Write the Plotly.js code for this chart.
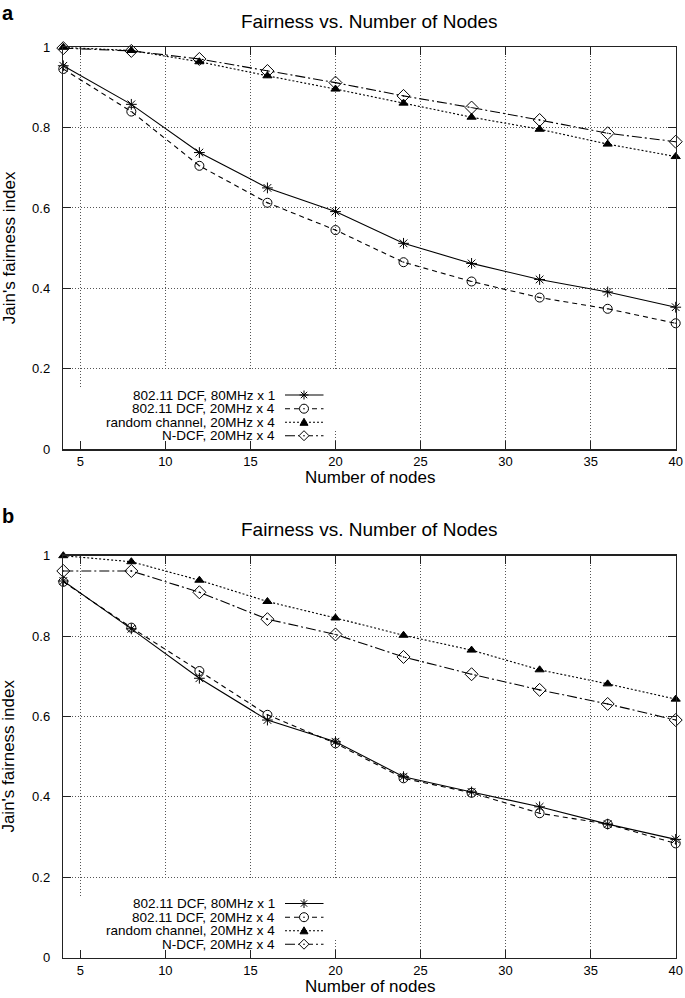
<!DOCTYPE html>
<html>
<head>
<meta charset="utf-8">
<script src="https://cdn.plot.ly/plotly-3.0.1.min.js"></script>
<style>html,body{margin:0;padding:0;background:#fff;}#chart{width:685px;height:998px;}</style>
</head>
<body>
<div id="chart"></div>
<script>
// ---------- data ----------
const nodes = [4, 8, 12, 16, 20, 24, 28, 32, 36, 40];

const seriesNames = [
  "802.11 DCF, 80MHz x 1",
  "802.11 DCF, 20MHz x 4",
  "random channel, 20MHz x 4",
  "N-DCF, 20MHz x 4"
];

// panel a
const aDcf80  = [0.954, 0.858, 0.738, 0.650, 0.591, 0.512, 0.462, 0.422, 0.391, 0.353];
const aDcf20  = [0.946, 0.840, 0.705, 0.613, 0.545, 0.465, 0.417, 0.377, 0.349, 0.313];
const aRandom = [1.000, 0.992, 0.964, 0.929, 0.896, 0.861, 0.826, 0.796, 0.759, 0.728];
const aNdcf   = [0.998, 0.991, 0.971, 0.941, 0.912, 0.879, 0.850, 0.819, 0.786, 0.765];

// panel b
const bDcf80  = [0.937, 0.818, 0.695, 0.591, 0.537, 0.450, 0.412, 0.375, 0.332, 0.294];
const bDcf20  = [0.935, 0.821, 0.713, 0.604, 0.533, 0.446, 0.410, 0.359, 0.332, 0.284];
const bRandom = [1.000, 0.985, 0.939, 0.886, 0.845, 0.802, 0.765, 0.716, 0.681, 0.643];
const bNdcf   = [0.962, 0.962, 0.909, 0.842, 0.804, 0.748, 0.705, 0.666, 0.631, 0.591];

const xTickVals = [5, 10, 15, 20, 25, 30, 35, 40];
const xTickText = ["5", "10", "15", "20", "25", "30", "35", "40"];
const yTickVals = [0, 0.2, 0.4, 0.6, 0.8, 1];
const yTickText = ["0", "0.2", "0.4", "0.6", "0.8", "1"];

const chartTitle = "Fairness vs. Number of Nodes";
const xTitle = "Number of nodes";
const yTitle = "Jain's fairness index";
const panelLabels = ["a", "b"];

// ---------- layout helpers ----------
const W = 685, H = 998;
const px = p => p / W;
const py = p => 1 - p / H;
const FONT = "Liberation Sans, Arial, Helvetica, sans-serif";

const X_MIN = 4, X_MAX = 40;
const plotLeft = 63.3, plotRight = 675.7;
const plotW = plotRight - plotLeft;
const panels = [
  {top: 47.3, bottom: 449.0, xa: "x", ya: "y", labelTop: 0},
  {top: 555.7, bottom: 957.5, xa: "x2", ya: "y2", labelTop: 503}
];

const styles = [
  {dash: "solid", symbol: "asterisk-open", size: 9},
  {dash: "5px,4px", symbol: "circle-open-dot", size: 9},
  {dash: "2px,2px", symbol: "triangle-up", size: 8},
  {dash: "10px,3px,2px,3px", symbol: "diamond-open-dot", size: 10}
];

const panelData = [
  [aDcf80, aDcf20, aRandom, aNdcf],
  [bDcf80, bDcf20, bRandom, bNdcf]
];

const traces = [];
panelData.forEach((set, pi) => {
  set.forEach((vals, si) => {
    traces.push({
      type: "scatter",
      mode: "lines+markers",
      x: nodes,
      y: vals,
      name: seriesNames[si],
      xaxis: panels[pi].xa,
      yaxis: panels[pi].ya,
      cliponaxis: false,
      line: {color: "#000", width: 1.1, dash: styles[si].dash},
      marker: {symbol: styles[si].symbol, size: styles[si].size, color: "#000",
               line: {color: "#000", width: 1}},
      showlegend: false
    });
  });
});

function xAxis(anchor) {
  return {
    domain: [px(plotLeft), px(plotRight)], anchor: anchor,
    range: [X_MIN, X_MAX], tickvals: xTickVals, ticktext: xTickText,
    ticks: "inside", ticklen: 8, tickwidth: 1, tickcolor: "#222",
    showline: true, linecolor: "#222", linewidth: 1.5, mirror: "ticks",
    showgrid: true, gridcolor: "#555", gridwidth: 1, griddash: "1px,2px",
    zeroline: false, ticklabelstandoff: 0,
    tickfont: {family: FONT, size: 13, color: "#000"}, fixedrange: true
  };
}
function yAxis(anchor, p) {
  return {
    domain: [py(p.bottom), py(p.top)], anchor: anchor,
    range: [0, 1], tickvals: yTickVals, ticktext: yTickText,
    ticks: "inside", ticklen: 8, tickwidth: 1, tickcolor: "#222",
    showline: true, linecolor: "#222", linewidth: 1.5, mirror: "ticks",
    showgrid: true, gridcolor: "#555", gridwidth: 1, griddash: "1px,2px",
    zeroline: false, ticklabelstandoff: 9,
    tickfont: {family: FONT, size: 13, color: "#000"}, fixedrange: true
  };
}

const annotations = [];
const shapes = [];

panels.forEach((p, pi) => {
  const cx = (plotLeft + plotRight) / 2;
  const cy = (p.top + p.bottom) / 2;
  // panel label
  annotations.push({text: "<b>" + panelLabels[pi] + "</b>", xref: "paper", yref: "paper",
    x: px(0), y: py(p.labelTop), xanchor: "left", yanchor: "top", showarrow: false,
    font: {family: FONT, size: 20, color: "#000"}});
  // title
  annotations.push({text: chartTitle, xref: "paper", yref: "paper",
    x: px(cx), y: py(p.top - 26), xanchor: "center", yanchor: "middle", showarrow: false,
    font: {family: FONT, size: 19, color: "#000"}});
  // x title
  annotations.push({text: xTitle, xref: "paper", yref: "paper",
    x: px(cx), y: py(p.bottom + 28.5), xanchor: "center", yanchor: "middle", showarrow: false,
    font: {family: FONT, size: 17, color: "#000"}});
  // y title
  annotations.push({text: yTitle, xref: "paper", yref: "paper",
    x: px(9), y: py(cy), xanchor: "center", yanchor: "middle", showarrow: false, textangle: -90,
    font: {family: FONT, size: 17, color: "#000"}});

  // white patches hiding grid behind the key (pixel extents -> axis units)
  const xd = v => X_MIN + (v - plotLeft) / plotW * (X_MAX - X_MIN);
  [[76, 85, 0.0, 0.152], [160, 256, 0.0, 0.197], [330, 341, 0.045, 0.197]].forEach(r => {
    shapes.push({type: "rect", xref: p.xa, yref: p.ya, layer: "between",
      x0: xd(r[0]), x1: xd(r[1]), y0: r[2], y1: r[3],
      fillcolor: "#fff", line: {width: 0}});
  });

  // key
  const rowOff = [54, 40.3, 26.7, 13.3];
  seriesNames.forEach((nm, si) => {
    const ry = p.bottom - rowOff[si];
    annotations.push({text: nm, xref: "paper", yref: "paper",
      x: px(277), y: py(ry), xanchor: "right", yanchor: "middle", showarrow: false,
      font: {family: FONT, size: 13.5, color: "#000"}});
    shapes.push({type: "line", xref: "paper", yref: "paper", layer: "above",
      x0: px(285), x1: px(323.5), y0: py(ry), y1: py(ry),
      line: {color: "#000", width: 1.1, dash: styles[si].dash}});
    const mx = px(304), my = py(ry);
    const base = {xref: "paper", yref: "paper", xsizemode: "pixel", ysizemode: "pixel",
      xanchor: mx, yanchor: my, layer: "above"};
    if (si === 0) {
      shapes.push(Object.assign({}, base, {type: "path",
        path: "M-4.5,0L4.5,0M0,-4.5L0,4.5M-3.2,-3.2L3.2,3.2M-3.2,3.2L3.2,-3.2",
        line: {color: "#000", width: 1}}));
    } else if (si === 1) {
      shapes.push(Object.assign({}, base, {type: "circle", x0: -4.5, x1: 4.5, y0: -4.5, y1: 4.5,
        fillcolor: "#fff", line: {color: "#000", width: 1}}));
      shapes.push(Object.assign({}, base, {type: "circle", x0: -0.8, x1: 0.8, y0: -0.8, y1: 0.8,
        fillcolor: "#000", line: {color: "#000", width: 0}}));
    } else if (si === 2) {
      shapes.push(Object.assign({}, base, {type: "path",
        path: "M-4,-3L4,-3L0,4Z", fillcolor: "#000", line: {color: "#000", width: 1}}));
    } else {
      shapes.push(Object.assign({}, base, {type: "path",
        path: "M-5,0L0,5L5,0L0,-5Z", fillcolor: "#fff", line: {color: "#000", width: 1}}));
      shapes.push(Object.assign({}, base, {type: "circle", x0: -0.8, x1: 0.8, y0: -0.8, y1: 0.8,
        fillcolor: "#000", line: {color: "#000", width: 0}}));
    }
  });
});

const layout = {
  width: W, height: H,
  margin: {l: 0, r: 0, t: 0, b: 0, pad: 0},
  paper_bgcolor: "#fff", plot_bgcolor: "#fff",
  showlegend: false,
  font: {family: FONT, color: "#000"},
  xaxis: xAxis("y"), yaxis: yAxis("x", panels[0]),
  xaxis2: xAxis("y2"), yaxis2: yAxis("x2", panels[1]),
  annotations: annotations,
  shapes: shapes
};

Plotly.newPlot("chart", traces, layout, {displayModeBar: false, staticPlot: true});
</script>
</body>
</html>
